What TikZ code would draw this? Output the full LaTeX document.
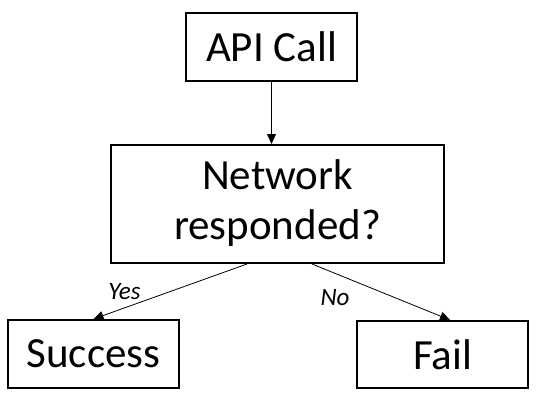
\documentclass[tikz,border=0pt]{standalone}
\usepackage{fontspec}
\setmainfont{Carlito}
\usetikzlibrary{arrows.meta,calc}
\begin{document}
\begin{tikzpicture}[x=1pt,y=-1pt,
  box/.style={draw=black,line width=2pt,inner sep=0pt,align=center,
    font=\fontsize{43}{50}\selectfont},
  conn/.style={draw=black,line width=0.8pt,-{Triangle[length=10pt,width=9pt]}},
  lab/.style={font=\fontsize{25}{28}\selectfont\itshape,inner sep=0pt}]
\useasboundingbox (0,0) rectangle (540,410);
\node[box,minimum width=171pt,minimum height=68pt] (api) at (271.5,47) {API Call};
\node[box,minimum width=333pt,minimum height=118pt] (net) at (277.5,204)
  {\raisebox{-4pt}{\begin{tabular}{@{}c@{}}Network\\responded?\end{tabular}}};
\node[box,minimum width=171pt,minimum height=68pt] (succ) at (93.5,354) {Success};
\node[box,minimum width=171pt,minimum height=67pt] (fail) at (442.5,354.5) {Fail};
\coordinate (ys) at ($(net.south)+(-30.5,0)$);
\coordinate (ns) at ($(net.south)+(34.5,0)$);
\coordinate (fe) at ($(fail.north)+(7.5,0)$);
\draw[conn] (api.south) -- (api.south |- net.north);
\draw[conn] (ys) -- (succ.north);
\draw[conn] (ns) -- (fe);
\node[lab] (yes) at (124.5,291.5) {Yes};
\node[lab] (no) at (335,297.5) {No};
\end{tikzpicture}
\end{document}
